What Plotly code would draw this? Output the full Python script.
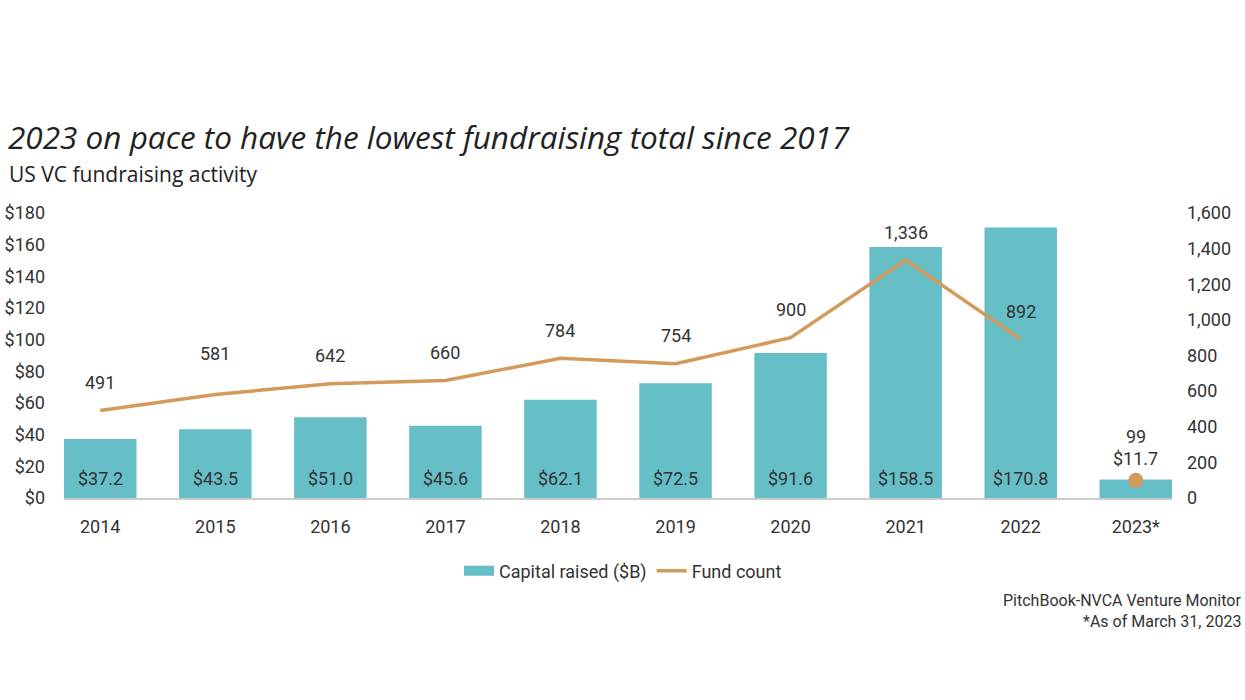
import plotly.graph_objects as go

years = ["2014", "2015", "2016", "2017", "2018", "2019", "2020", "2021", "2022", "2023*"]
capital_raised = [37.2, 43.5, 51.0, 45.6, 62.1, 72.5, 91.6, 158.5, 170.8, 11.7]
fund_count = [491, 581, 642, 660, 784, 754, 900, 1336, 892, 99]
left_ticks = [0, 20, 40, 60, 80, 100, 120, 140, 160, 180]
right_ticks = [0, 200, 400, 600, 800, 1000, 1200, 1400, 1600]

BAR = "#66bec6"
LINE = "#d49a5c"
TXT = "#333333"
NARROW = "Liberation Sans Narrow, Roboto, sans-serif"

W, H = 1245, 700
L, R, T, B = 64, 73, 213, 202
pw, ph = W - L - R, H - T - B

def px_x(p):
    return (p - L) / pw

def px_y(p):
    return (H - B - p) / ph

idx = list(range(len(years)))

fig = go.Figure()
fig.add_trace(go.Bar(
    x=idx, y=capital_raised, name="Capital raised ($B)", showlegend=False,
    marker=dict(color=BAR, line=dict(width=0)), width=0.63,
))
# legend swatch for the bars (wide rectangle look)
fig.add_trace(go.Scatter(
    x=[None], y=[None], name="Capital raised ($B)", mode="lines",
    line=dict(color=BAR, width=13),
))
fig.add_trace(go.Scatter(
    x=idx[:-1], y=fund_count[:-1], name="Fund count", yaxis="y2",
    mode="lines", line=dict(color=LINE, width=3.5),
))
fig.add_trace(go.Scatter(
    x=idx[-1:], y=fund_count[-1:], yaxis="y2", showlegend=False,
    mode="markers", marker=dict(color=LINE, size=15),
))

ann = []
last = len(years) - 1
for i, v in enumerate(capital_raised):
    if i < last:
        ann.append(dict(x=i, y=0, xref="x", yref="y", text=f"${v:.1f}",
                        showarrow=False, yanchor="middle", yshift=20,
                        font=dict(family=NARROW, size=18, color=TXT)))
    else:
        ann.append(dict(x=i, y=v, xref="x", yref="y", text=f"${v:.1f}",
                        showarrow=False, yanchor="middle", yshift=21,
                        font=dict(family=NARROW, size=18, color=TXT)))
for i, c in enumerate(fund_count):
    shift = 28
    if i == 1:
        shift = 41
    if i == last:
        shift = 44
    ann.append(dict(x=i, y=c, xref="x", yref="y2", text=f"{c:,}",
                    showarrow=False, yanchor="middle", yshift=shift,
                    font=dict(family=NARROW, size=18, color=TXT)))

ann.append(dict(x=px_x(7), y=px_y(174), xref="paper", yref="paper",
                text="US VC fundraising activity", showarrow=False,
                xanchor="left", yanchor="middle",
                font=dict(family="Open Sans, sans-serif", size=21, color="#222222")))
ann.append(dict(x=px_x(1243), y=px_y(600), xref="paper", yref="paper",
                text="PitchBook-NVCA Venture Monitor", showarrow=False,
                xanchor="right", yanchor="middle",
                font=dict(family=NARROW, size=16, color=TXT)))
ann.append(dict(x=px_x(1243), y=px_y(621), xref="paper", yref="paper",
                text="*As of March 31, 2023", showarrow=False,
                xanchor="right", yanchor="middle",
                font=dict(family=NARROW, size=16, color=TXT)))

fig.update_layout(
    width=W, height=H,
    margin=dict(l=L, r=R, t=T, b=B, pad=0, autoexpand=False),
    paper_bgcolor="white", plot_bgcolor="white",
    title=dict(text="<i>2023 on pace to have the lowest fundraising total since 2017</i>",
               x=8 / W, xanchor="left", y=1 - 138 / H, yanchor="middle",
               yref="container", xref="container",
               font=dict(family="Open Sans, sans-serif", size=31.5, color="#222222")),
    xaxis=dict(range=[-0.315, 9.315], tickvals=idx, ticktext=years,
               showgrid=False, zeroline=False, automargin=False,
               showline=True, linecolor="#cccccc", linewidth=1.5,
               ticks="", ticklabelstandoff=12,
               tickfont=dict(family=NARROW, size=18, color=TXT)),
    yaxis=dict(range=[0, 180], tickvals=left_ticks,
               ticktext=[f"${t}" for t in left_ticks],
               showgrid=False, zeroline=False, showline=False, automargin=False,
               ticks="", ticklabelstandoff=18,
               tickfont=dict(family=NARROW, size=18, color=TXT)),
    yaxis2=dict(range=[0, 1600], tickvals=right_ticks,
                ticktext=[f"{t:,}" for t in right_ticks],
                overlaying="y", side="right", showgrid=False, automargin=False,
                zeroline=False, showline=False, ticks="", ticklabelstandoff=14,
                tickfont=dict(family=NARROW, size=18, color=TXT)),
    legend=dict(orientation="h", x=px_x(623), xanchor="center",
                y=px_y(571), yanchor="middle",
                font=dict(family=NARROW, size=18, color=TXT),
                traceorder="normal"),
    annotations=ann,
    showlegend=True,
)

fig.write_html("out.html",
               config={"displayModeBar": False},
               post_script="document.body.style.margin='0';document.body.style.overflow='hidden';")
